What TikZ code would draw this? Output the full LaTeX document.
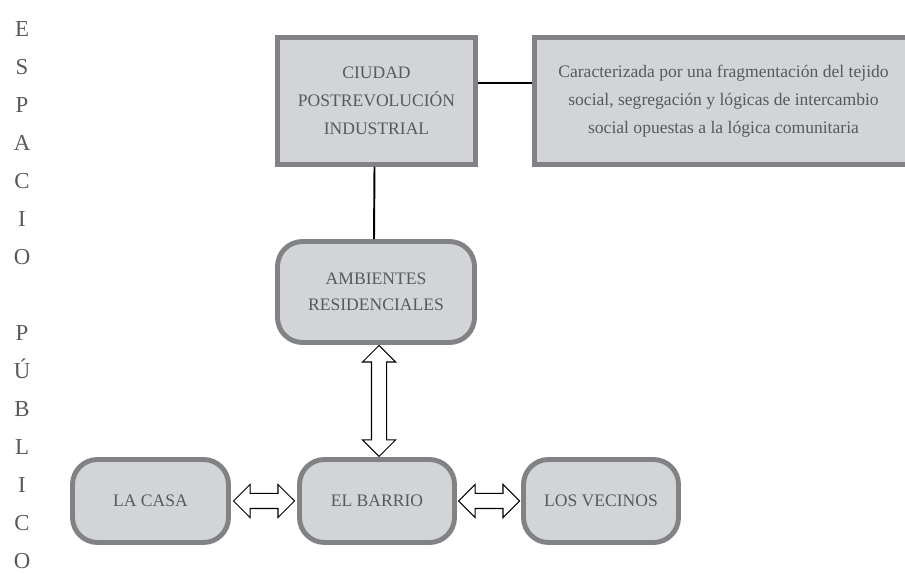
\documentclass[tikz,border=0pt]{standalone}
\usepackage{fontspec}
\setmainfont{Liberation Serif}
\usepackage{xcolor}
\usepackage{tikz}
\usetikzlibrary{shapes.arrows,calc}

\definecolor{boxfill}{HTML}{D3D4D6}
\definecolor{boxline}{HTML}{808285}
\definecolor{boxtext}{HTML}{58595B}

\tikzset{
  sqbox/.style={draw=boxline, fill=boxfill, line width=2.8pt, text=boxtext,
    align=center, inner sep=2pt, font=\fontsize{10}{16}\selectfont},
  rndbox/.style={sqbox, rounded corners=0.5cm, font=\fontsize{10}{15}\selectfont},
  dblarrow/.style={double arrow, draw=black, fill=white, line width=0.6pt,
    inner sep=0.14cm, double arrow head extend=0.18cm,
    double arrow tip angle=90}
}

\begin{document}
\begin{tikzpicture}

\clip (0,0) rectangle (18.1,11.46);

% vertical title
\node[text=boxtext, align=center, font=\fontsize{13}{21.6}\selectfont]
  (titulo) at (0.44,5.56) {E\\S\\P\\A\\C\\I\\O\\[21.6pt]P\\Ú\\B\\L\\I\\C\\O};

% top row
\node[sqbox, minimum width=3.96cm, minimum height=2.54cm] (ciudad) at (7.53,9.44)
  {CIUDAD\\POSTREVOLUCIÓN\\INDUSTRIAL};
\node[sqbox, minimum width=7.56cm, minimum height=2.54cm] (caract) at (14.47,9.44)
  {Caracterizada por una fragmentación del tejido\\social, segregación y lógicas de intercambio\\social opuestas a la lógica comunitaria};

\node[rndbox, minimum width=3.94cm, minimum height=2.02cm] (ambientes) at (7.52,5.62)
  {AMBIENTES\\RESIDENCIALES};

% bottom row
\node[rndbox, minimum width=3.12cm, minimum height=1.66cm] (casa) at (3.01,1.44) {LA CASA};
\node[rndbox, minimum width=3.10cm, minimum height=1.66cm] (barrio) at (7.54,1.44) {EL BARRIO};
\node[rndbox, minimum width=3.10cm, minimum height=1.66cm] (vecinos) at (12.02,1.44) {LOS VECINOS};

\draw[line width=1.1pt] ([yshift=0.36cm]ciudad.east) -- ([yshift=0.36cm]caract.west);
\draw[line width=1.1pt] ([xshift=-0.04cm]ciudad.south) -- ([xshift=-0.04cm]ambientes.north);

\node[dblarrow, minimum height=2.22cm, rotate=90] (flecha1) at ($(ambientes.south)!0.5!(barrio.north)+(0.05,0)$) {};
\node[dblarrow, minimum height=1.22cm] (flecha2) at ($(casa.east)!0.5!(barrio.west)$) {};
\node[dblarrow, minimum height=1.22cm] (flecha3) at ($(barrio.east)!0.5!(vecinos.west)$) {};

\end{tikzpicture}
\end{document}
